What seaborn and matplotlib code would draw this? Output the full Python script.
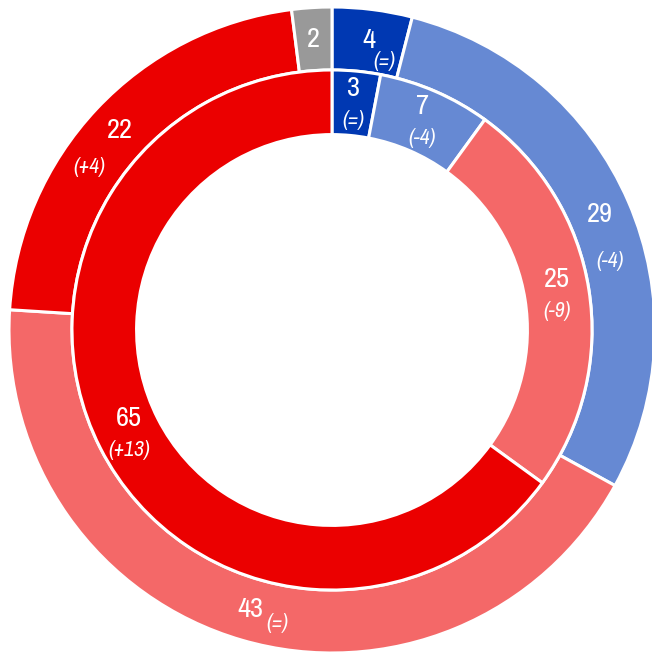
import numpy as np
import matplotlib
matplotlib.use("Agg")
import matplotlib.pyplot as plt
import seaborn as sns
from matplotlib import font_manager

# Seats by bloc: outer ring and inner ring, clockwise from the top
outer_values = [4, 29, 43, 22, 2]
outer_changes = ["(=)", "(-4)", "(=)", "(+4)", ""]
outer_colors = ["#0038B2", "#6689D3", "#F46868", "#EB0000", "#999999"]

inner_values = [3, 7, 25, 65]
inner_changes = ["(=)", "(-4)", "(-9)", "(+13)"]
inner_colors = ["#0038B2", "#6689D3", "#F46868", "#EB0000"]

# Where the change note sits relative to its outer-ring number (pixels)
outer_change_offsets = [(16, -20), (11, -47), (27, -13), (-30, -37), (0, 0)]

sns.set_theme(style="white")

# Prefer a narrow face for the labels
family, stretch = "DejaVu Sans", "condensed"
for f in font_manager.fontManager.ttflist:
    if "Narrow" in f.name or "Condensed" in f.name:
        family, stretch = f.name, "normal"
        break
plt.rcParams["font.family"] = [family, "DejaVu Sans"]
plt.rcParams["font.stretch"] = stretch

fig = plt.figure(figsize=(6.52, 6.52), dpi=100)
ax = fig.add_axes([0, 0, 1, 1])

R_OUT, W_OUT = 1.0, 0.195
R_IN, W_IN = 0.805, 0.20

edge = dict(edgecolor="white", linewidth=2.2)
ax.pie(outer_values, radius=R_OUT, startangle=90, counterclock=False,
       colors=outer_colors, wedgeprops=dict(width=W_OUT, **edge))
ax.pie(inner_values, radius=R_IN, startangle=90, counterclock=False,
       colors=inner_colors, wedgeprops=dict(width=W_IN, **edge))


def mid_points(values, radius):
    total = float(sum(values))
    cum = np.cumsum([0] + list(values))
    mids = (cum[:-1] + cum[1:]) / 2 / total * 2 * np.pi
    return radius * np.sin(mids), radius * np.cos(mids)


num_kw = dict(color="white", fontsize=20.5, ha="center", va="center", fontstretch=stretch)
chg_kw = dict(color="white", fontsize=15.5, style="italic", ha="center", va="center",
              fontstretch=stretch)

ox, oy = mid_points(outer_values, R_OUT - W_OUT / 2)
for x, y, v, c, off in zip(ox, oy, outer_values, outer_changes, outer_change_offsets):
    ax.text(x, y, str(v), **num_kw)
    if c:
        ax.annotate(c, (x, y), xytext=off, textcoords="offset pixels", **chg_kw)

ix, iy = mid_points(inner_values, R_IN - W_IN / 2)
for x, y, v, c in zip(ix, iy, inner_values, inner_changes):
    ax.annotate(str(v), (x, y), xytext=(0, 15), textcoords="offset pixels", **num_kw)
    ax.annotate(c, (x, y), xytext=(0, -17), textcoords="offset pixels", **chg_kw)

s = 323.0
ax.set_xlim(-332 / s, 320 / s)
ax.set_ylim(-322 / s, 330 / s)
ax.set_aspect("equal")
ax.axis("off")

fig.savefig("out.png", dpi=100)
